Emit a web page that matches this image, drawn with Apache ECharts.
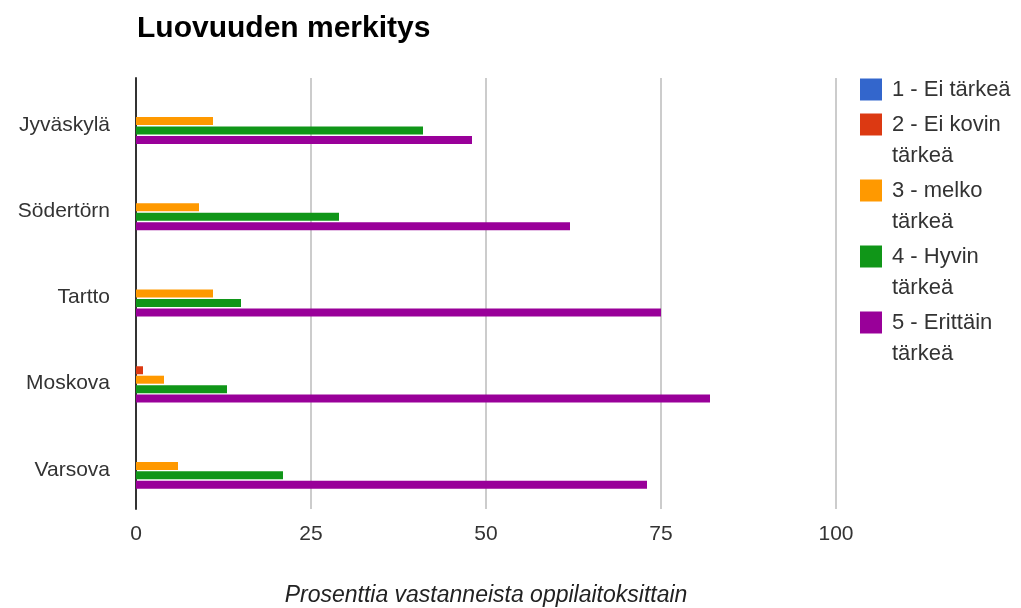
<!DOCTYPE html>
<html>
<head>
<meta charset="utf-8">
<script src="https://cdn.jsdelivr.net/npm/echarts@6/dist/echarts.min.js"></script>
<style>
html, body { margin: 0; padding: 0; background: #fff; }
#chart { width: 1021px; height: 608px; }
</style>
</head>
<body>
<div id="chart"></div>
<script>
// kaupungit (ylhäältä alas)
var cities = ['Jyväskylä', 'Södertörn', 'Tartto', 'Moskova', 'Varsova'];
var seriesNames = ['1 - Ei tärkeä', '2 - Ei kovin tärkeä', '3 - melko tärkeä', '4 - Hyvin tärkeä', '5 - Erittäin tärkeä'];
var colors = ['#3366cc', '#dc3912', '#ff9900', '#109618', '#990099'];
// prosentit, yksi lista per vastausvaihtoehto
var eiTarkea = [0, 0, 0, 0, 0];
var eiKovinTarkea = [0, 0, 0, 1, 0];
var melkoTarkea = [11, 9, 11, 4, 6];
var hyvinTarkea = [41, 29, 15, 13, 21];
var erittainTarkea = [48, 62, 75, 82, 73];
var xTicks = [0, 25, 50, 75, 100];

var values = [eiTarkea, eiKovinTarkea, melkoTarkea, hyvinTarkea, erittainTarkea];

var series = [];
for (var i = 0; i < seriesNames.length; i++) {
    series.push({
        name: seriesNames[i],
        type: 'bar',
        data: values[i],
        barWidth: 8,
        barGap: '18%',
        itemStyle: { color: colors[i] },
        emphasis: { disabled: true }
    });
}

var myChart = echarts.init(document.getElementById('chart'));
var option = {
    animation: false,
    color: colors,
    title: {
        text: 'Luovuuden merkitys',
        left: 132,
        top: 9,
        textStyle: {
            fontFamily: 'Liberation Sans',
            fontWeight: 'bold',
            fontSize: 30,
            color: '#000'
        }
    },
    legend: {
        orient: 'vertical',
        left: 855,
        top: 69,
        itemWidth: 22,
        itemHeight: 22,
        itemGap: -27,
        icon: 'rect',
        selectedMode: false,
        data: seriesNames,
        // pitkät nimet kahdelle riville, tyhjä rivi ylös jotta ikoni osuu ekaan riviin
        formatter: function (name) {
            if (name.length <= 14) return name;
            var idx = name.lastIndexOf(' ');
            return ' \n' + name.slice(0, idx) + '\n' + name.slice(idx + 1);
        },
        textStyle: {
            fontFamily: 'Liberation Sans',
            fontSize: 22,
            lineHeight: 31,
            color: '#333',
            padding: [0, 0, 0, 5]
        }
    },
    grid: {
        left: 136,
        right: 185,
        top: 78,
        bottom: 99,
        containLabel: false,
        outerBoundsMode: 'none'
    },
    xAxis: {
        type: 'value',
        min: 0,
        max: 100,
        interval: 25,
        name: 'Prosenttia vastanneista oppilaitoksittain',
        nameLocation: 'middle',
        nameGap: 75,
        nameTextStyle: {
            fontFamily: 'Liberation Sans',
            fontStyle: 'italic',
            fontSize: 23,
            color: '#222'
        },
        axisLine: { show: false },
        axisTick: { show: false },
        axisLabel: {
            fontFamily: 'Liberation Sans',
            fontSize: 21,
            color: '#333',
            margin: 15,
            formatter: function (v) { return xTicks.indexOf(v) >= 0 ? String(v) : ''; }
        },
        splitLine: { show: true, lineStyle: { color: '#cccccc', width: 2 } }
    },
    yAxis: {
        type: 'category',
        data: cities,
        inverse: true,
        axisLine: { show: true, lineStyle: { color: '#333', width: 2 } },
        axisTick: { show: false },
        axisLabel: {
            margin: 26,
            formatter: function (v) { return '{a|' + v + '}'; },
            rich: {
                // teksti hieman alemmas kuten alkuperäisessä
                a: {
                    fontFamily: 'Liberation Sans',
                    fontSize: 21,
                    color: '#333',
                    padding: [8, 0, 0, 0]
                }
            }
        },
        splitLine: { show: false }
    },
    series: series
};
option && myChart.setOption(option);
</script>
</body>
</html>
